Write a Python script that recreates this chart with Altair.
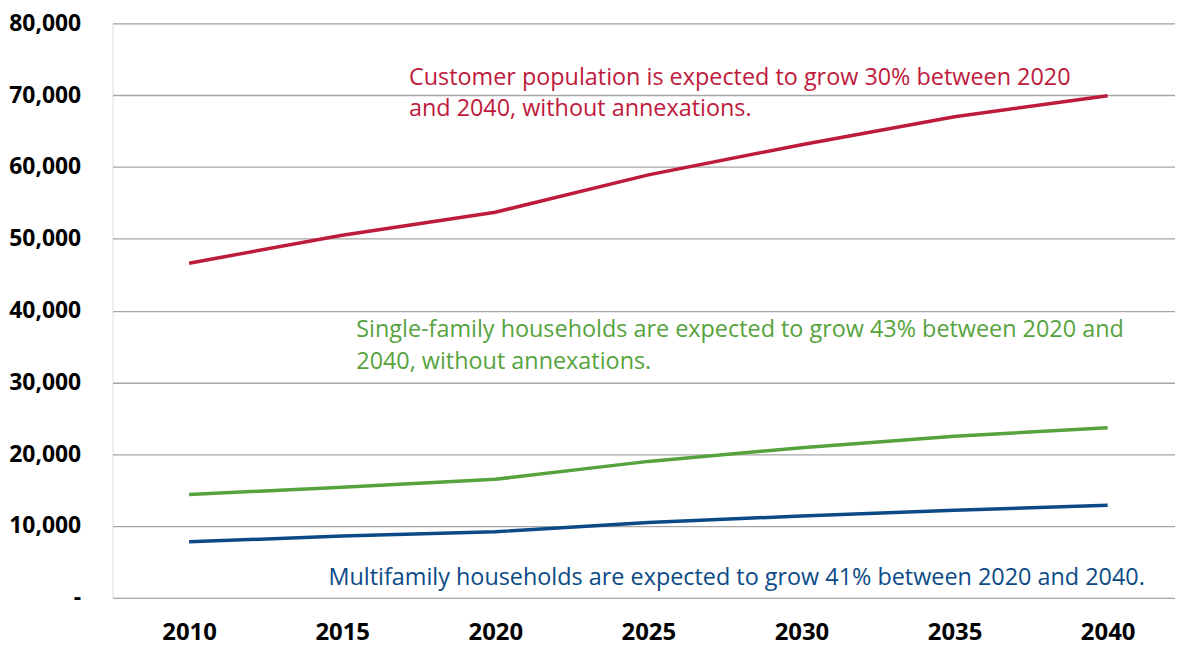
import altair as alt
import pandas as pd

years = [2010, 2015, 2020, 2025, 2030, 2035, 2040]
customer_pop = [46600, 50500, 53700, 58900, 63100, 67000, 69900]
single_family = [14400, 15400, 16500, 19000, 20900, 22500, 23700]
multifamily = [7800, 8600, 9200, 10500, 11400, 12200, 12900]

series_names = ["Customer population", "Single-family households", "Multifamily households"]
series_colors = ["#BE1A3C", "#56A33E", "#0B4A86"]

notes = [
    "Customer population is expected to grow 30% between 2020\nand 2040, without annexations.",
    "Single-family households are expected to grow 43% between 2020 and\n2040, without annexations.",
    "Multifamily households are expected to grow 41% between 2020 and 2040.",
]
note_x = [2017.18, 2015.46, 2014.55]
note_y = [74100, 38900, 4400]

rows = []
for name, vals in zip(series_names, [customer_pop, single_family, multifamily]):
    for yr, v in zip(years, vals):
        rows.append({"year": yr, "value": v, "series": name})
df = pd.DataFrame(rows)

notes_df = pd.DataFrame({"text": notes, "x": note_x, "y": note_y, "series": series_names})

xscale = alt.Scale(domain=[2007.5, 2042.2], nice=False, zero=False)
yscale = alt.Scale(domain=[0, 80000], nice=False)
cscale = alt.Scale(domain=series_names, range=series_colors)

xaxis = alt.Axis(values=years, format="d", title=None, grid=False, domain=False,
                 ticks=False, labelFont="Open Sans", labelFontWeight="bold",
                 labelFontSize=24, labelColor="#000000", labelPadding=23)
yaxis = alt.Axis(values=list(range(0, 80001, 10000)), title=None, domain=False,
                 ticks=False, gridColor="#A6A6A6", gridWidth=1.3,
                 labelFont="Open Sans", labelFontWeight="bold", labelFontSize=23,
                 labelColor="#000000", labelPadding=32,
                 labelExpr="datum.value == 0 ? '-\u00a0\u00a0\u00a0' : format(datum.value, ',')")

lines = alt.Chart(df).mark_line(strokeWidth=3.5).encode(
    x=alt.X("year:Q", scale=xscale, axis=xaxis),
    y=alt.Y("value:Q", scale=yscale, axis=yaxis),
    color=alt.Color("series:N", scale=cscale, legend=None),
)

texts = alt.Chart(notes_df).mark_text(
    align="left", baseline="top", font="Open Sans", fontSize=23.5, lineHeight=32, lineBreak="\n"
).encode(
    x=alt.X("x:Q", scale=xscale, axis=xaxis),
    y=alt.Y("y:Q", scale=yscale, axis=yaxis),
    text="text:N",
    color=alt.Color("series:N", scale=cscale, legend=None),
)

chart = alt.layer(lines, texts).properties(
    width=1067, height=577,
    autosize=alt.AutoSizeParams(type="none"),
    padding={"left": 105, "top": 14, "right": 0, "bottom": 50},
).configure_view(strokeWidth=0).configure(background="#ffffff")

chart.save("out.html", embed_options={"renderer": "svg", "actions": False})
